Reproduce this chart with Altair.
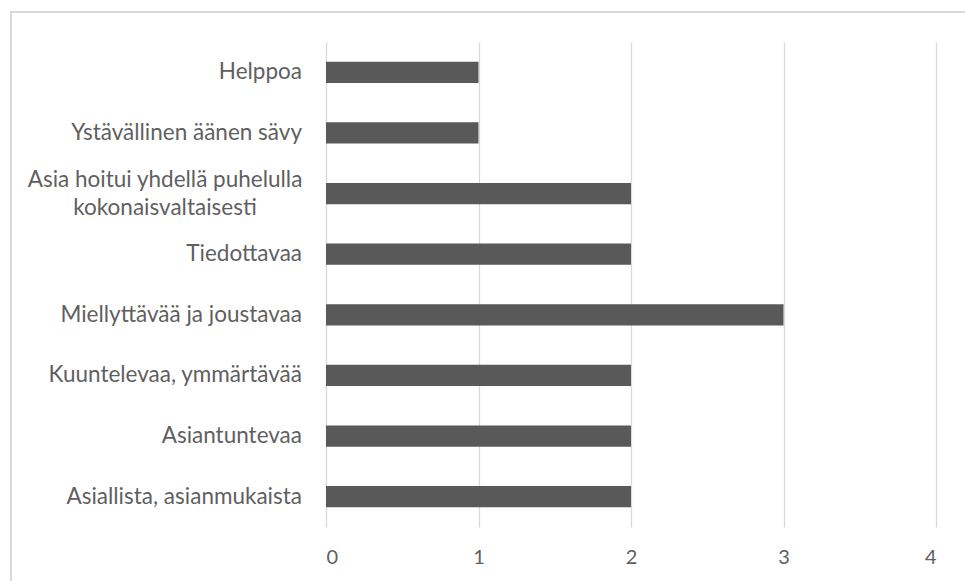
import altair as alt
import pandas as pd

# Survey answers: how the phone service was experienced (count of mentions)
categories = [
    "Helppoa",
    "Ystävällinen äänen sävy",
    "Asia hoitui yhdellä puhelulla\nkokonaisvaltaisesti",
    "Tiedottavaa",
    "Miellyttävää ja joustavaa\u00a0",
    "Kuuntelevaa, ymmärtävää",
    "Asiantuntevaa",
    "Asiallista, asianmukaista\u00a0",
]
counts = [1, 1, 2, 2, 3, 2, 2, 2]
x_ticks = [0, 1, 2, 3, 4]

FONT = "Lato"
TEXT_GREY = "#5f5f5f"
GRID_GREY = "#d9d9d9"
BAR_GREY = "#595959"

df = pd.DataFrame({"label": categories, "count": counts})
df["multiline"] = df["label"].str.contains("\n")

y_enc = alt.Y(
    "label:N",
    sort=categories,
    scale=alt.Scale(paddingInner=0.65, paddingOuter=0.325),
    axis=None,
)

base = alt.Chart(df)

bars = base.mark_bar(color=BAR_GREY).encode(
    x=alt.X(
        "count:Q",
        scale=alt.Scale(domain=[0, 4], nice=False),
        axis=alt.Axis(
            values=x_ticks,
            title=None,
            domain=False,
            ticks=False,
            grid=True,
            gridColor=GRID_GREY,
            gridWidth=1.3,
            labelFont=FONT,
            labelFontSize=20,
            labelColor=TEXT_GREY,
            labelPadding=20,
        ),
    ),
    y=y_enc,
)

# Category labels: single-line ones right-aligned, wrapped one centred as a block
single_labels = base.transform_filter("!datum.multiline").mark_text(
    align="right", baseline="middle", font=FONT, fontSize=22.5, color=TEXT_GREY
).encode(y=y_enc, x=alt.value(-24), text="label:N")

wrapped_labels = base.transform_filter("datum.multiline").mark_text(
    align="center", baseline="middle", font=FONT, fontSize=22.5, color=TEXT_GREY,
    lineBreak="\n", lineHeight=28, dy=-14,
).encode(y=y_enc, x=alt.value(-161), text="label:N")

# Light frame around the whole chart area
frame = alt.Chart(pd.DataFrame({"k": [0]})).mark_rect(
    fill=None, stroke=GRID_GREY, strokeWidth=2, clip=False
).encode(
    x=alt.value(-315), x2=alt.value(700), y=alt.value(-30), y2=alt.value(600)
)

chart = (
    alt.layer(frame, bars, single_labels, wrapped_labels)
    .properties(
        width=610,
        height=485,
        autosize=alt.AutoSizeParams(type="none"),
        padding={"left": 326, "top": 42, "right": 29, "bottom": 54},
        background="white",
    )
    .configure_view(stroke=None)
)

chart.save("out.html", embed_options={"renderer": "svg", "actions": False})
